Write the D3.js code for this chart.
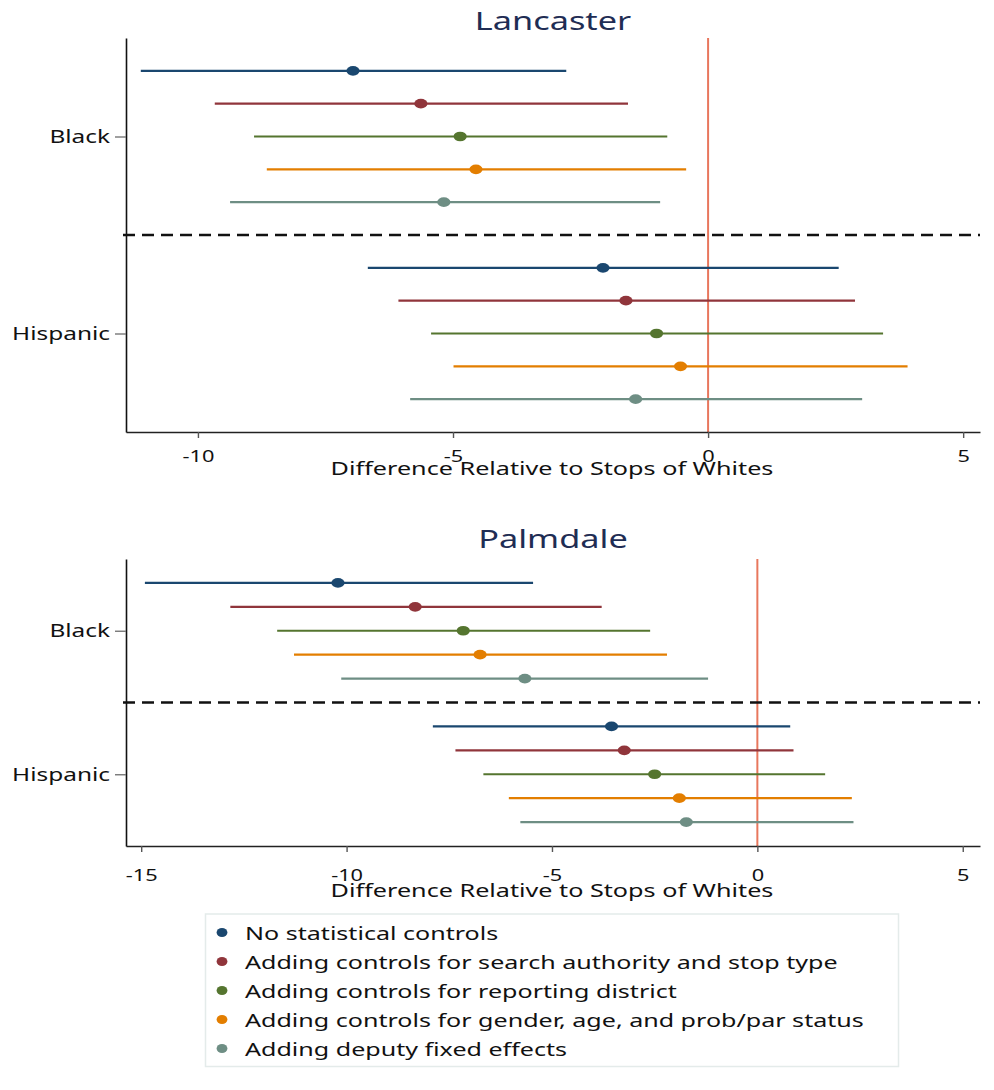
<!DOCTYPE html>
<html>
<head>
<meta charset="utf-8">
<script src="https://cdn.jsdelivr.net/npm/d3@7"></script>
<style>
  body { margin: 0; background: #fff; }
  text { font-family: "Noto Sans", sans-serif; }
</style>
</head>
<body>
<div id="vis"></div>
<script>
const SERIES = [
  "No statistical controls",
  "Adding controls for search authority and stop type",
  "Adding controls for reporting district",
  "Adding controls for gender, age, and prob/par status",
  "Adding deputy fixed effects"
];
const COLORS = ["#1a476f", "#90353b", "#55752f", "#e37e00", "#6e8e84"];
const GROUPS = ["Black", "Hispanic"];

// Lancaster: lower bound, estimate, upper bound (one per series)
const LAN_BLACK_LO  = [-11.12, -9.67, -8.90, -8.65, -9.37];
const LAN_BLACK_EST = [-6.96, -5.63, -4.86, -4.55, -5.18];
const LAN_BLACK_HI  = [-2.78, -1.57, -0.80, -0.43, -0.94];
const LAN_HISP_LO   = [-6.67, -6.07, -5.43, -4.99, -5.84];
const LAN_HISP_EST  = [-2.06, -1.61, -1.01, -0.54, -1.42];
const LAN_HISP_HI   = [2.56, 2.88, 3.43, 3.91, 3.02];

// Palmdale
const PAL_BLACK_LO  = [-14.91, -12.83, -11.69, -11.28, -10.13];
const PAL_BLACK_EST = [-10.21, -8.33, -7.16, -6.75, -5.66];
const PAL_BLACK_HI  = [-5.46, -3.79, -2.61, -2.20, -1.20];
const PAL_HISP_LO   = [-7.90, -7.35, -6.67, -6.05, -5.77];
const PAL_HISP_EST  = [-3.55, -3.24, -2.50, -1.90, -1.73];
const PAL_HISP_HI   = [0.80, 0.88, 1.65, 2.30, 2.34];

const LAN_TICKS = [-10, -5, 0, 5];
const PAL_TICKS = [-15, -10, -5, 0, 5];
const X_TITLE = "Difference Relative to Stops of Whites";

const WIDTH = 994, HEIGHT = 1090;
const SX = 1.32; // the original picture is stretched sideways
const LEFT = 126, RIGHT = 980;

const svg = d3.select("#vis").append("svg")
  .attr("width", WIDTH)
  .attr("height", HEIGHT);

function stretch(sel, x, y, k) {
  return sel.attr("transform", "translate(" + x + "," + y + ") scale(" + (k || SX) + ",1)");
}

function rows(lo, est, hi, g) {
  return SERIES.map((s, i) => ({series: i, group: g, lo: lo[i], est: est[i], hi: hi[i]}));
}

const PANELS = [
  {title: "Lancaster", top: 38, bottom: 432, titleY: 30, domain: [-11.41, 5.33], ticks: LAN_TICKS,
   tickY: 462, axisTitleY: 475,
   data: rows(LAN_BLACK_LO, LAN_BLACK_EST, LAN_BLACK_HI, 0).concat(rows(LAN_HISP_LO, LAN_HISP_EST, LAN_HISP_HI, 1))},
  {title: "Palmdale", top: 559, bottom: 846, titleY: 548, domain: [-15.37, 5.42], ticks: PAL_TICKS,
   tickY: 881, axisTitleY: 897,
   data: rows(PAL_BLACK_LO, PAL_BLACK_EST, PAL_BLACK_HI, 0).concat(rows(PAL_HISP_LO, PAL_HISP_EST, PAL_HISP_HI, 1))}
];

PANELS.forEach(p => {
  const g = svg.append("g");
  const x = d3.scaleLinear().domain(p.domain).range([LEFT, RIGHT]);
  // 12 slots: 5 rows per group, a divider slot between
  const y = d3.scaleLinear().domain([0, 12]).range([p.top, p.bottom]);
  const slot = d => d.group * 6 + 1 + d.series;

  // title
  stretch(g.append("text"), (LEFT + RIGHT) / 2, p.titleY)
    .attr("text-anchor", "middle")
    .attr("font-size", 26)
    .attr("fill", "#1f2d54")
    .text(p.title);

  // zero line
  g.append("line")
    .attr("x1", x(0)).attr("x2", x(0))
    .attr("y1", p.top).attr("y2", p.bottom)
    .attr("stroke", "#e8775d").attr("stroke-width", 2);

  // group divider
  g.append("line")
    .attr("x1", LEFT - 3).attr("x2", RIGHT)
    .attr("y1", y(6)).attr("y2", y(6))
    .attr("stroke", "#111").attr("stroke-width", 2.6)
    .attr("stroke-dasharray", "12,7");

  // confidence intervals
  g.selectAll(".ci").data(p.data).enter().append("line")
    .attr("class", "ci")
    .attr("x1", d => x(d.lo)).attr("x2", d => x(d.hi))
    .attr("y1", d => y(slot(d))).attr("y2", d => y(slot(d)))
    .attr("stroke", d => COLORS[d.series]).attr("stroke-width", 2.2);

  // estimates
  g.selectAll(".pt").data(p.data).enter().append("ellipse")
    .attr("class", "pt")
    .attr("cx", d => x(d.est)).attr("cy", d => y(slot(d)))
    .attr("rx", 6.6).attr("ry", 4.8)
    .attr("fill", d => COLORS[d.series]);

  // x axis
  const xa = g.append("g")
    .attr("transform", "translate(0," + p.bottom + ")")
    .call(d3.axisBottom(x).tickValues(p.ticks).tickSize(6).tickSizeOuter(0).tickFormat(d => String(d)));
  xa.select(".domain").attr("stroke", "#222").attr("stroke-width", 1.6);
  xa.selectAll(".tick line").attr("stroke", "#555").attr("stroke-width", 1.4);
  xa.selectAll(".tick text")
    .attr("y", p.tickY - p.bottom).attr("dy", null)
    .attr("font-size", 16.5).attr("fill", "#111")
    .attr("font-family", "Noto Sans")
    .attr("transform", "scale(" + SX + ",1)");

  // y axis
  const ya = g.append("g")
    .attr("transform", "translate(" + LEFT + ",0)")
    .call(d3.axisLeft(y).tickValues([3, 9]).tickSize(11).tickPadding(5).tickSizeOuter(0)
      .tickFormat(v => GROUPS[v === 3 ? 0 : 1]));
  ya.select(".domain").attr("stroke", "#111").attr("stroke-width", 1.6);
  ya.selectAll(".tick line").attr("stroke", "#777").attr("stroke-width", 1.4);
  ya.selectAll(".tick text")
    .attr("x", -16 / SX)
    .attr("font-size", 18.5).attr("fill", "#111")
    .attr("font-family", "Noto Sans")
    .attr("transform", "scale(" + SX + ",1)");

  // axis title (overlaps the tick labels, as in the original)
  stretch(g.append("text"), (LEFT + RIGHT) / 2 - 1, p.axisTitleY, 1.4)
    .attr("text-anchor", "middle")
    .attr("font-size", 18)
    .attr("fill", "#111")
    .text(X_TITLE);
});

// legend
const legend = svg.append("g");
legend.append("rect")
  .attr("x", 205.5).attr("y", 914)
  .attr("width", 693).attr("height", 152.5)
  .attr("fill", "#fff").attr("stroke", "#e4ebea").attr("stroke-width", 1.5);

const ly = d3.scalePoint().domain(SERIES).range([932.5, 1048.5]);
const item = legend.selectAll(".item").data(SERIES).enter().append("g").attr("class", "item");
item.append("ellipse")
  .attr("cx", 222).attr("cy", d => ly(d))
  .attr("rx", 5.4).attr("ry", 4.6)
  .attr("fill", (d, i) => COLORS[i]);
item.append("text")
  .attr("transform", d => "translate(245," + (ly(d) + 7) + ") scale(" + SX + ",1)")
  .attr("font-size", 19)
  .attr("fill", "#111")
  .text(d => d);
</script>
</body>
</html>
